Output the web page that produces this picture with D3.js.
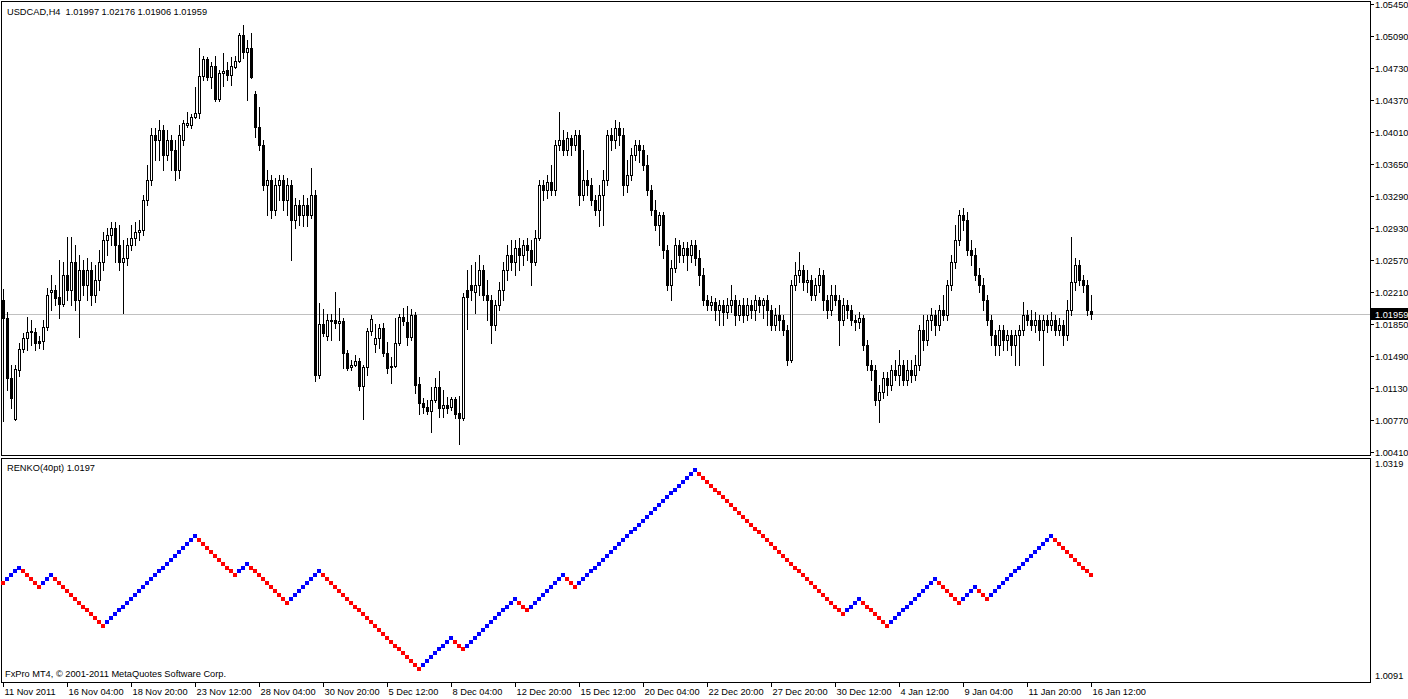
<!DOCTYPE html>
<html>
<head>
<meta charset="utf-8">
<title>USDCAD,H4</title>
<script src="https://d3js.org/d3.v7.min.js"></script>
<style>
  body { margin: 0; background: #fff; }
  svg { display: block; }
  text { font-family: 'Liberation Sans', Arial, sans-serif; font-size: 9.25px; fill: #000; white-space: pre; }
</style>
</head>
<body>
<svg width="1408" height="699"></svg>
<script>
// USDCAD H4 candles, [open, high, low, close], 11 Nov 2011 12:00 .. 16 Jan 2012 12:00
const ohlc = [
[1.0212,1.0224,1.0075,1.0191],[1.0191,1.0198,1.0110,1.0124],[1.0124,1.0138,1.0090,1.0101],[1.0078,1.0138,1.0077,1.0134],
[1.0133,1.0163,1.0126,1.0156],[1.0156,1.0174,1.0153,1.0169],[1.0169,1.0193,1.0155,1.0176],[1.0176,1.0189,1.0161,1.0177],
[1.0176,1.0180,1.0155,1.0163],[1.0165,1.0171,1.0158,1.0163],[1.0165,1.0189,1.0156,1.0181],[1.0181,1.0225,1.0178,1.0217],
[1.0221,1.0240,1.0200,1.0223],[1.0223,1.0229,1.0206,1.0214],[1.0215,1.0257,1.0191,1.0207],[1.0207,1.0254,1.0205,1.0240],
[1.0240,1.0283,1.0212,1.0223],[1.0223,1.0283,1.0206,1.0254],[1.0254,1.0274,1.0200,1.0212],[1.0212,1.0262,1.0170,1.0245],
[1.0245,1.0257,1.0217,1.0229],[1.0229,1.0259,1.0212,1.0245],[1.0245,1.0254,1.0206,1.0217],[1.0217,1.0251,1.0209,1.0234],
[1.0234,1.0268,1.0223,1.0254],[1.0254,1.0288,1.0245,1.0279],[1.0279,1.0293,1.0262,1.0285],[1.0285,1.0300,1.0274,1.0293],
[1.0293,1.0300,1.0254,1.0274],[1.0274,1.0296,1.0245,1.0254],[1.0254,1.0279,1.0197,1.0259],[1.0259,1.0281,1.0251,1.0274],
[1.0274,1.0296,1.0268,1.0281],[1.0281,1.0300,1.0274,1.0288],[1.0288,1.0302,1.0279,1.0291],[1.0291,1.0330,1.0285,1.0324],
[1.0324,1.0364,1.0319,1.0347],[1.0347,1.0405,1.0341,1.0397],[1.0397,1.0405,1.0369,1.0392],[1.0392,1.0414,1.0369,1.0403],
[1.0403,1.0409,1.0358,1.0375],[1.0375,1.0403,1.0369,1.0392],[1.0392,1.0397,1.0358,1.0381],[1.0381,1.0392,1.0347,1.0358],
[1.0358,1.0409,1.0349,1.0397],[1.0392,1.0414,1.0386,1.0411],[1.0409,1.0423,1.0407,1.0411],[1.0409,1.0421,1.0405,1.0418],
[1.0418,1.0452,1.0417,1.0422],[1.0422,1.0495,1.0417,1.0464],[1.0464,1.0486,1.0459,1.0483],[1.0483,1.0485,1.0459,1.0463],
[1.0463,1.0480,1.0450,1.0475],[1.0475,1.0486,1.0436,1.0438],[1.0438,1.0471,1.0436,1.0467],[1.0467,1.0490,1.0453,1.0470],
[1.0471,1.0480,1.0459,1.0465],[1.0465,1.0485,1.0454,1.0475],[1.0474,1.0486,1.0473,1.0481],[1.0481,1.0512,1.0480,1.0510],
[1.0510,1.0521,1.0484,1.0491],[1.0491,1.0504,1.0437,1.0495],[1.0495,1.0512,1.0462,1.0463],[1.0444,1.0447,1.0395,1.0407],
[1.0407,1.0429,1.0381,1.0386],[1.0386,1.0392,1.0336,1.0341],[1.0341,1.0358,1.0307,1.0347],[1.0347,1.0352,1.0304,1.0313],
[1.0313,1.0349,1.0307,1.0341],[1.0341,1.0352,1.0324,1.0347],[1.0347,1.0352,1.0313,1.0324],[1.0324,1.0349,1.0307,1.0341],
[1.0341,1.0347,1.0257,1.0302],[1.0302,1.0327,1.0293,1.0319],[1.0319,1.0324,1.0296,1.0307],[1.0307,1.0330,1.0295,1.0319],
[1.0319,1.0327,1.0295,1.0307],[1.0307,1.0360,1.0304,1.0330],[1.0330,1.0336,1.0120,1.0127],[1.0127,1.0208,1.0124,1.0185],
[1.0185,1.0202,1.0171,1.0174],[1.0171,1.0196,1.0167,1.0189],[1.0189,1.0196,1.0167,1.0188],[1.0189,1.0221,1.0180,1.0186],
[1.0186,1.0203,1.0167,1.0188],[1.0188,1.0191,1.0135,1.0152],[1.0152,1.0155,1.0133,1.0135],[1.0136,1.0144,1.0133,1.0138],
[1.0138,1.0150,1.0137,1.0143],[1.0143,1.0146,1.0110,1.0115],[1.0115,1.0138,1.0078,1.0136],[1.0136,1.0180,1.0127,1.0177],
[1.0177,1.0195,1.0172,1.0190],[1.0162,1.0185,1.0153,1.0169],[1.0169,1.0185,1.0158,1.0180],[1.0180,1.0186,1.0149,1.0152],
[1.0152,1.0164,1.0129,1.0135],[1.0136,1.0147,1.0118,1.0137],[1.0137,1.0191,1.0136,1.0163],[1.0163,1.0196,1.0161,1.0192],
[1.0192,1.0203,1.0183,1.0188],[1.0187,1.0205,1.0161,1.0170],[1.0170,1.0202,1.0167,1.0195],[1.0195,1.0198,1.0107,1.0116],
[1.0117,1.0125,1.0083,1.0096],[1.0096,1.0101,1.0084,1.0091],[1.0091,1.0099,1.0083,1.0087],[1.0087,1.0114,1.0063,1.0099],
[1.0099,1.0124,1.0097,1.0114],[1.0114,1.0132,1.0080,1.0090],[1.0090,1.0110,1.0080,1.0093],[1.0093,1.0102,1.0084,1.0090],
[1.0091,1.0102,1.0088,1.0100],[1.0100,1.0102,1.0079,1.0083],[1.0084,1.0104,1.0049,1.0079],[1.0079,1.0220,1.0077,1.0215],
[1.0223,1.0245,1.0179,1.0215],[1.0229,1.0251,1.0212,1.0223],[1.0221,1.0254,1.0197,1.0229],[1.0229,1.0262,1.0217,1.0245],
[1.0245,1.0251,1.0212,1.0217],[1.0217,1.0234,1.0189,1.0212],[1.0212,1.0217,1.0163,1.0184],[1.0184,1.0212,1.0178,1.0206],
[1.0206,1.0232,1.0200,1.0223],[1.0223,1.0254,1.0212,1.0245],[1.0245,1.0274,1.0234,1.0262],[1.0262,1.0279,1.0245,1.0254],
[1.0254,1.0279,1.0240,1.0270],[1.0270,1.0281,1.0245,1.0262],[1.0262,1.0279,1.0251,1.0274],[1.0274,1.0281,1.0257,1.0268],
[1.0268,1.0279,1.0229,1.0254],[1.0254,1.0291,1.0251,1.0281],[1.0281,1.0347,1.0279,1.0341],[1.0341,1.0347,1.0324,1.0336],
[1.0336,1.0352,1.0327,1.0345],[1.0345,1.0364,1.0330,1.0336],[1.0336,1.0392,1.0330,1.0386],[1.0386,1.0423,1.0381,1.0392],
[1.0392,1.0403,1.0375,1.0381],[1.0381,1.0401,1.0375,1.0394],[1.0394,1.0397,1.0375,1.0386],[1.0386,1.0403,1.0381,1.0397],
[1.0397,1.0403,1.0319,1.0330],[1.0330,1.0381,1.0324,1.0347],[1.0347,1.0358,1.0330,1.0341],[1.0341,1.0349,1.0319,1.0324],
[1.0324,1.0330,1.0307,1.0313],[1.0313,1.0341,1.0295,1.0330],[1.0330,1.0358,1.0296,1.0347],[1.0347,1.0403,1.0341,1.0397],
[1.0397,1.0405,1.0381,1.0392],[1.0392,1.0414,1.0383,1.0405],[1.0405,1.0412,1.0386,1.0397],[1.0397,1.0405,1.0330,1.0341],
[1.0341,1.0369,1.0333,1.0352],[1.0352,1.0383,1.0347,1.0375],[1.0375,1.0392,1.0369,1.0386],[1.0386,1.0392,1.0367,1.0381],
[1.0381,1.0386,1.0358,1.0364],[1.0364,1.0375,1.0330,1.0336],[1.0336,1.0341,1.0307,1.0313],[1.0313,1.0324,1.0291,1.0296],
[1.0296,1.0311,1.0274,1.0307],[1.0307,1.0311,1.0259,1.0268],[1.0268,1.0274,1.0223,1.0229],[1.0229,1.0257,1.0212,1.0248],
[1.0248,1.0281,1.0243,1.0274],[1.0274,1.0279,1.0254,1.0262],[1.0262,1.0277,1.0254,1.0270],[1.0270,1.0277,1.0245,1.0262],
[1.0262,1.0279,1.0254,1.0274],[1.0274,1.0279,1.0251,1.0259],[1.0259,1.0268,1.0229,1.0240],[1.0240,1.0248,1.0206,1.0212],
[1.0212,1.0217,1.0200,1.0206],[1.0206,1.0216,1.0200,1.0209],[1.0209,1.0214,1.0189,1.0200],[1.0200,1.0212,1.0184,1.0206],
[1.0206,1.0212,1.0184,1.0198],[1.0198,1.0214,1.0191,1.0206],[1.0206,1.0229,1.0198,1.0212],[1.0212,1.0217,1.0184,1.0195],
[1.0195,1.0212,1.0189,1.0206],[1.0206,1.0214,1.0187,1.0195],[1.0195,1.0214,1.0189,1.0206],[1.0206,1.0212,1.0191,1.0200],
[1.0200,1.0217,1.0189,1.0212],[1.0212,1.0215,1.0198,1.0206],[1.0206,1.0214,1.0191,1.0212],[1.0212,1.0217,1.0184,1.0200],
[1.0200,1.0206,1.0178,1.0184],[1.0184,1.0203,1.0178,1.0195],[1.0195,1.0206,1.0178,1.0189],[1.0189,1.0195,1.0172,1.0178],
[1.0178,1.0184,1.0138,1.0144],[1.0144,1.0234,1.0142,1.0229],[1.0229,1.0254,1.0223,1.0240],[1.0240,1.0266,1.0232,1.0245],
[1.0245,1.0251,1.0223,1.0232],[1.0232,1.0245,1.0221,1.0234],[1.0234,1.0240,1.0212,1.0217],[1.0217,1.0236,1.0212,1.0229],
[1.0229,1.0248,1.0221,1.0240],[1.0240,1.0245,1.0200,1.0212],[1.0212,1.0217,1.0191,1.0200],[1.0200,1.0229,1.0195,1.0217],
[1.0217,1.0229,1.0206,1.0212],[1.0212,1.0217,1.0161,1.0189],[1.0189,1.0214,1.0184,1.0206],[1.0206,1.0212,1.0191,1.0200],
[1.0200,1.0206,1.0184,1.0189],[1.0189,1.0195,1.0178,1.0187],[1.0187,1.0198,1.0180,1.0191],[1.0191,1.0195,1.0155,1.0161],
[1.0161,1.0167,1.0133,1.0138],[1.0138,1.0144,1.0122,1.0133],[1.0133,1.0138,1.0093,1.0099],[1.0099,1.0116,1.0074,1.0108],
[1.0108,1.0131,1.0101,1.0124],[1.0124,1.0131,1.0105,1.0116],[1.0116,1.0138,1.0110,1.0133],[1.0133,1.0144,1.0122,1.0127],
[1.0127,1.0155,1.0116,1.0138],[1.0138,1.0144,1.0116,1.0122],[1.0122,1.0144,1.0116,1.0133],[1.0133,1.0144,1.0119,1.0127],
[1.0127,1.0150,1.0122,1.0138],[1.0138,1.0184,1.0133,1.0178],[1.0178,1.0195,1.0155,1.0167],[1.0167,1.0195,1.0161,1.0189],
[1.0189,1.0203,1.0178,1.0195],[1.0195,1.0200,1.0172,1.0184],[1.0184,1.0206,1.0178,1.0200],[1.0200,1.0217,1.0189,1.0195],
[1.0195,1.0234,1.0189,1.0229],[1.0229,1.0262,1.0223,1.0254],[1.0254,1.0296,1.0248,1.0279],[1.0279,1.0313,1.0274,1.0307],
[1.0307,1.0315,1.0291,1.0302],[1.0302,1.0311,1.0262,1.0268],[1.0268,1.0279,1.0251,1.0262],[1.0262,1.0270,1.0234,1.0240],
[1.0240,1.0248,1.0221,1.0229],[1.0229,1.0236,1.0200,1.0212],[1.0212,1.0217,1.0184,1.0189],[1.0189,1.0195,1.0161,1.0172],
[1.0172,1.0178,1.0150,1.0161],[1.0161,1.0184,1.0150,1.0178],[1.0178,1.0184,1.0155,1.0167],[1.0167,1.0178,1.0155,1.0172],
[1.0172,1.0178,1.0150,1.0161],[1.0161,1.0178,1.0138,1.0172],[1.0172,1.0184,1.0138,1.0178],[1.0178,1.0209,1.0172,1.0195],
[1.0195,1.0200,1.0184,1.0189],[1.0189,1.0200,1.0178,1.0184],[1.0184,1.0198,1.0176,1.0189],[1.0189,1.0195,1.0167,1.0178],
[1.0178,1.0195,1.0138,1.0189],[1.0189,1.0195,1.0176,1.0184],[1.0184,1.0198,1.0178,1.0189],[1.0189,1.0195,1.0172,1.0178],
[1.0178,1.0191,1.0172,1.0184],[1.0184,1.0189,1.0161,1.0172],[1.0172,1.0212,1.0167,1.0200],[1.0200,1.0283,1.0195,1.0232],
[1.0232,1.0259,1.0223,1.0251],[1.0251,1.0257,1.0229,1.0234],[1.0234,1.0240,1.0221,1.0229],[1.0229,1.0234,1.0195,1.0200],
[1.01997,1.02176,1.01906,1.01959]
];

// Renko(40pt) bricks: runs of up (+) / down (-) bricks, one brick per bar
const renkoStart = 1.01935;
const renkoBrick = 0.00045;
const renkoRuns = [-1, 4, -5, 3, -13, 23, -10, 3, -10, 8, -25, 8, -3, 13, -3, 9, -3, 30, -37, 4, -7, 12, -6, 4, -3, 16, -10];

const priceTicks = [1.05450, 1.05090, 1.04730, 1.04370, 1.04010, 1.03650, 1.03290, 1.02930,
                    1.02570, 1.02210, 1.01850, 1.01490, 1.01130, 1.00770, 1.00410];
const renkoTicks = [1.0319, 1.0091];
const timeLabels = ["11 Nov 2011", "16 Nov 04:00", "18 Nov 20:00", "23 Nov 12:00", "28 Nov 04:00",
  "30 Nov 20:00", "5 Dec 12:00", "8 Dec 04:00", "12 Dec 20:00", "15 Dec 12:00", "20 Dec 04:00",
  "22 Dec 20:00", "27 Dec 20:00", "30 Dec 12:00", "4 Jan 12:00", "9 Jan 04:00", "11 Jan 20:00", "16 Jan 12:00"];
const labelStep = 16; // bars between time labels

const svg = d3.select("svg");
svg.append("rect").attr("width", 1408).attr("height", 699).attr("fill", "#fff");

const axisX = 1370;
const x = d3.scaleLinear().domain([0, ohlc.length - 1]).range([3, 3 + 4 * (ohlc.length - 1)]);
const y = d3.scaleLinear().domain([1.00410, 1.05450]).range([451.5, 4]);

// renko bricks
const bricks = [];
let level = renkoStart;
renkoRuns.forEach(function(n) {
  for (let k = 0; k < Math.abs(n); k++) {
    level += Math.sign(n) * renkoBrick;
    bricks.push({v: level, up: n > 0});
  }
});
const yR = d3.scaleLinear().domain([d3.min(bricks, d => d.v), d3.max(bricks, d => d.v)]).range([669, 470]);

// frames
const frame = svg.append("g").attr("fill", "none").attr("stroke", "#000").attr("shape-rendering", "crispEdges");
frame.append("rect").attr("x", 1.5).attr("y", 1.5).attr("width", axisX - 1).attr("height", 454);
frame.append("rect").attr("x", 1.5).attr("y", 458.5).attr("width", axisX - 1).attr("height", 224);

// current price line
const last = ohlc[ohlc.length - 1];
svg.append("line")
  .attr("x1", 2).attr("x2", axisX)
  .attr("y1", Math.round(y(last[3])) + 0.5).attr("y2", Math.round(y(last[3])) + 0.5)
  .attr("stroke", "#c0c0c0").attr("shape-rendering", "crispEdges");

// candles
const candles = svg.append("g").attr("shape-rendering", "crispEdges");
candles.selectAll("line")
  .data(ohlc)
  .enter()
  .append("line")
    .attr("x1", (d, i) => x(i) + 0.5)
    .attr("x2", (d, i) => x(i) + 0.5)
    .attr("y1", d => Math.round(y(d[1])))
    .attr("y2", d => Math.round(y(d[2])) + 1)
    .attr("stroke", "#000");

candles.selectAll("rect")
  .data(ohlc)
  .enter()
  .append("rect")
    .attr("x", (d, i) => x(i) - 0.5)
    .attr("y", d => Math.round(y(Math.max(d[0], d[3]))) + 0.5)
    .attr("width", 2)
    .attr("height", d => Math.max(Math.round(y(Math.min(d[0], d[3]))) - Math.round(y(Math.max(d[0], d[3]))), 0))
    .attr("fill", d => d[3] >= d[0] ? "#fff" : "#000")
    .attr("stroke", "#000");

// renko
svg.append("g").attr("shape-rendering", "crispEdges")
  .selectAll("rect")
  .data(bricks)
  .enter()
  .append("rect")
    .attr("x", (d, i) => x(i) - 2)
    .attr("y", d => Math.round(yR(d.v)) - 2)
    .attr("width", 4)
    .attr("height", 4)
    .attr("fill", d => d.up ? "#0000ff" : "#ff0000");

// price axis
const pa = svg.append("g");
pa.selectAll("line")
  .data(priceTicks)
  .enter()
  .append("line")
    .attr("x1", axisX + 1).attr("x2", axisX + 4)
    .attr("y1", d => Math.round(y(d)) + 0.5).attr("y2", d => Math.round(y(d)) + 0.5)
    .attr("stroke", "#000").attr("shape-rendering", "crispEdges");
pa.selectAll("text")
  .data(priceTicks)
  .enter()
  .append("text")
    .attr("x", axisX + 5)
    .attr("y", d => Math.round(y(d)) + 0.5)
    .attr("dy", "0.35em")
    .text(d => d3.format(".5f")(d));

// current price label
const cy = Math.round(y(last[3]));
svg.append("rect").attr("x", axisX + 1).attr("y", cy - 6).attr("width", 1408 - axisX - 1).attr("height", 12).attr("fill", "#000");
svg.append("text").attr("x", axisX + 5).attr("y", cy + 0.5).attr("dy", "0.35em").style("fill", "#fff")
  .text(d3.format(".5f")(last[3]));

// renko axis labels
svg.selectAll("text.rk")
  .data(renkoTicks)
  .enter()
  .append("text")
    .attr("class", "rk")
    .attr("x", axisX + 5)
    .attr("y", (d, i) => i === 0 ? 464 : 676)
    .attr("dy", "0.35em")
    .text(d => d3.format(".4f")(d));

// time axis
const ta = svg.append("g");
ta.selectAll("line")
  .data(timeLabels)
  .enter()
  .append("line")
    .attr("x1", (d, i) => x(i * labelStep) + 0.5).attr("x2", (d, i) => x(i * labelStep) + 0.5)
    .attr("y1", 683).attr("y2", 687)
    .attr("stroke", "#000").attr("shape-rendering", "crispEdges");
ta.selectAll("text")
  .data(timeLabels)
  .enter()
  .append("text")
    .attr("x", (d, i) => x(i * labelStep) + 1.5)
    .attr("y", 694.5)
    .text(d => d);

// captions
svg.append("text").attr("x", 7).attr("y", 15)
  .text("USDCAD,H4  " + last.map(d3.format(".5f")).join(" "));
svg.append("text").attr("x", 7).attr("y", 471)
  .text("RENKO(40pt) " + d3.format(".4f")(bricks[bricks.length - 1].v - 0.0001));
svg.append("text").attr("x", 5).attr("y", 677)
  .text("FxPro MT4, \u00a9 2001-2011 MetaQuotes Software Corp.");
</script>
</body>
</html>
